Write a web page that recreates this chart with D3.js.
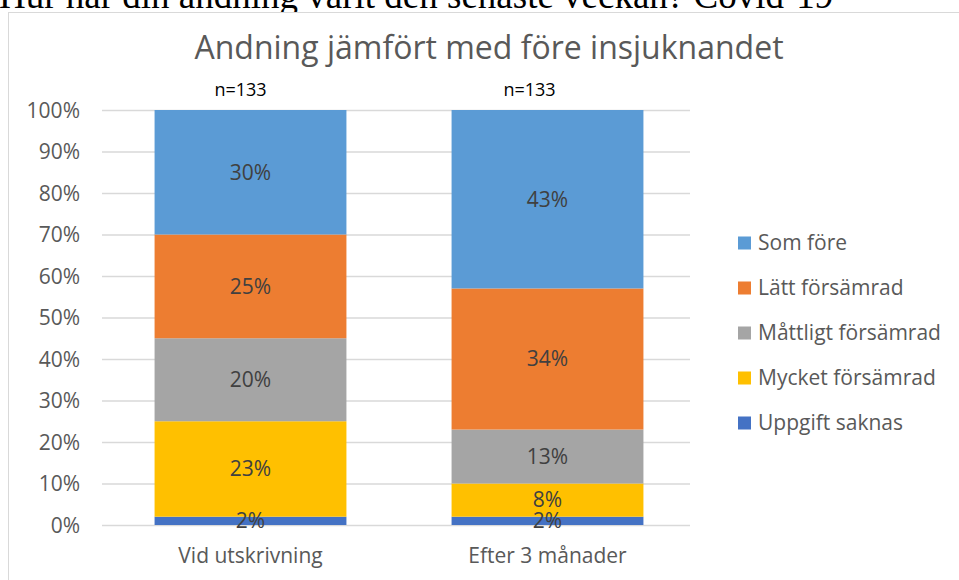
<!DOCTYPE html>
<html>
<head>
<meta charset="utf-8">
<script src="https://cdn.jsdelivr.net/npm/d3@7"></script>
<style>
  html, body { margin: 0; padding: 0; background: #fff; overflow: hidden; }
  svg { display: block; }
</style>
</head>
<body>
<svg id="chart" width="959" height="580"></svg>
<script>
// Breathing compared with before falling ill (share of respondents, %)
const categories = ["Vid utskrivning", "Efter 3 månader"];
const sampleSizes = ["n=133", "n=133"];
const seriesNames = ["Uppgift saknas", "Mycket försämrad", "Måttligt försämrad", "Lätt försämrad", "Som före"];
const seriesColors = ["#4472c4", "#ffc000", "#a5a5a5", "#ed7d31", "#5b9bd5"];
const uppgiftSaknas = [2, 2];
const mycketForsamrad = [23, 8];
const mattligtForsamrad = [20, 13];
const lattForsamrad = [25, 34];
const somFore = [30, 43];
const yTicks = [0, 10, 20, 30, 40, 50, 60, 70, 80, 90, 100];

const seriesValues = [uppgiftSaknas, mycketForsamrad, mattligtForsamrad, lattForsamrad, somFore];
const rows = categories.map((c, i) => {
  const r = { category: c };
  seriesNames.forEach((s, k) => { r[s] = seriesValues[k][i]; });
  return r;
});
const stacked = d3.stack().keys(seriesNames)(rows);

const svg = d3.select("#chart");
const FONT = "'Open Sans', sans-serif";

// page heading above the chart frame (partly outside the view)
svg.append("text")
  .attr("x", -1).attr("y", 8)
  .attr("font-family", "'Liberation Serif', 'Times New Roman', serif")
  .attr("font-size", 37)
  .attr("fill", "#000")
  .text("Hur har din andning varit den senaste veckan? Covid-19");

// chart frame
svg.append("rect")
  .attr("x", 8.5).attr("y", 12.5)
  .attr("width", 1000).attr("height", 600)
  .attr("fill", "#fff")
  .attr("stroke", "#d9d9d9");

// chart title
svg.append("text")
  .attr("x", 489).attr("y", 59)
  .attr("text-anchor", "middle")
  .attr("font-family", FONT)
  .attr("font-size", 32)
  .attr("fill", "#595959")
  .text("Andning jämfört med före insjuknandet");

const x = d3.scaleBand().domain(categories).range([102, 696]).paddingInner(0.354).paddingOuter(0.177);
const y = d3.scaleLinear().domain([0, 100]).range([525, 110]);

// gridlines
svg.append("g").selectAll("line").data(yTicks).join("line")
  .attr("x1", 102).attr("x2", 690)
  .attr("y1", d => y(d) + 0.5).attr("y2", d => y(d) + 0.5)
  .attr("stroke", "#d9d9d9").attr("stroke-width", 1.3);

// y axis labels
const yAxis = d3.axisLeft(y).tickValues(yTicks).tickFormat(d => d + "%").tickSize(0).tickPadding(0);
const yg = svg.append("g").attr("transform", "translate(80,0)").call(yAxis);
yg.select(".domain").remove();
yg.selectAll("text").attr("font-family", FONT).attr("font-size", 21).attr("fill", "#595959").attr("dy", "0.35em");

// stacked bars
const layers = svg.append("g").selectAll("g").data(stacked).join("g")
  .attr("fill", (d, i) => seriesColors[i]);
layers.selectAll("rect").data(d => d).join("rect")
  .attr("x", d => x(d.data.category))
  .attr("width", x.bandwidth())
  .attr("y", d => y(d[1]))
  .attr("height", d => y(d[0]) - y(d[1]));

// value labels
const labels = svg.append("g");
stacked.forEach(layer => {
  layer.forEach(d => {
    labels.append("text")
      .attr("x", x(d.data.category) + x.bandwidth() / 2)
      .attr("y", y((d[0] + d[1]) / 2))
      .attr("dy", "0.35em")
      .attr("text-anchor", "middle")
      .attr("font-family", FONT).attr("font-size", 21)
      .attr("fill", "#404040")
      .text((d[1] - d[0]) + "%");
  });
});

// category axis
const xAxis = d3.axisBottom(x).tickSize(0).tickPadding(0);
const xg = svg.append("g").attr("transform", "translate(0,548)").call(xAxis);
xg.select(".domain").remove();
xg.selectAll("text").attr("font-family", FONT).attr("font-size", 21).attr("fill", "#595959").attr("dy", "0.71em");

// sample size annotations
svg.append("g").selectAll("text").data(categories).join("text")
  .attr("x", (d, i) => x(d) + x.bandwidth() / 2 - [10, 18][i])
  .attr("y", 96)
  .attr("text-anchor", "middle")
  .attr("font-family", FONT).attr("font-size", 18)
  .attr("fill", "#000")
  .text((d, i) => sampleSizes[i]);

// legend (top entry = top of stack)
const legendItems = seriesNames.map((s, i) => ({ name: s, color: seriesColors[i] })).reverse();
const lg = svg.append("g").selectAll("g").data(legendItems).join("g")
  .attr("transform", (d, i) => `translate(738,${243 + i * 45})`);
lg.append("rect").attr("x", 0).attr("y", -6.5).attr("width", 13).attr("height", 13).attr("fill", d => d.color);
lg.append("text").attr("x", 20).attr("dy", "0.35em")
  .attr("font-family", FONT).attr("font-size", 21).attr("fill", "#595959")
  .text(d => d.name);
</script>
</body>
</html>
